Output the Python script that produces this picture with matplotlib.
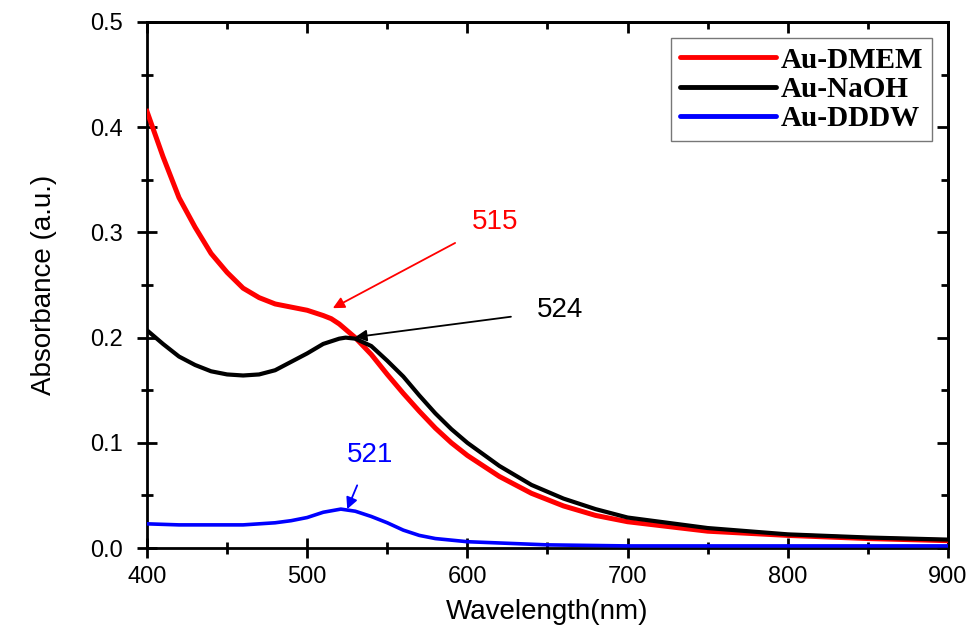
import matplotlib
matplotlib.use("Agg")
import matplotlib.pyplot as plt
import numpy as np

# Au-DMEM (red)
wl_dmem = [400, 410, 420, 430, 440, 450, 460, 470, 480, 490, 500, 510, 515, 520, 530,
           540, 550, 560, 570, 580, 590, 600, 620, 640, 660, 680, 700, 750, 800, 850, 900]
abs_dmem = [0.415, 0.372, 0.333, 0.305, 0.280, 0.262, 0.247, 0.238, 0.232, 0.229, 0.226,
            0.221, 0.218, 0.213, 0.200, 0.184, 0.165, 0.147, 0.130, 0.114, 0.100, 0.088,
            0.068, 0.052, 0.040, 0.031, 0.025, 0.016, 0.012, 0.009, 0.007]

# Au-NaOH (black)
wl_naoh = [400, 410, 420, 430, 440, 450, 460, 470, 480, 490, 500, 510, 520, 524, 530,
           540, 550, 560, 570, 580, 590, 600, 620, 640, 660, 680, 700, 750, 800, 850, 900]
abs_naoh = [0.207, 0.194, 0.182, 0.174, 0.168, 0.165, 0.164, 0.165, 0.169, 0.177, 0.185,
            0.194, 0.199, 0.200, 0.199, 0.192, 0.178, 0.163, 0.145, 0.128, 0.113, 0.100,
            0.078, 0.060, 0.047, 0.037, 0.029, 0.019, 0.013, 0.010, 0.008]

# Au-DDDW (blue)
wl_dddw = [400, 420, 440, 460, 480, 490, 500, 510, 521, 530, 540, 550, 560, 570, 580,
           600, 650, 700, 800, 900]
abs_dddw = [0.023, 0.022, 0.022, 0.022, 0.024, 0.026, 0.029, 0.034, 0.037, 0.035, 0.030,
            0.024, 0.017, 0.012, 0.009, 0.006, 0.003, 0.002, 0.002, 0.002]

labels = ["Au-DMEM", "Au-NaOH", "Au-DDDW"]

xmajor = [400, 500, 600, 700, 800, 900]
ymajor = [0.0, 0.1, 0.2, 0.3, 0.4, 0.5]

fig = plt.figure(figsize=(9.76, 6.34), dpi=100)
ax = fig.add_axes([0.1506, 0.1356, 0.8207, 0.8297])

ax.plot(wl_dmem, abs_dmem, color="#ff0000", lw=3.6, label=labels[0], zorder=3)
ax.plot(wl_naoh, abs_naoh, color="black", lw=3.0, label=labels[1], zorder=4)
ax.plot(wl_dddw, abs_dddw, color="#0000ff", lw=2.6, label=labels[2], zorder=3)

ax.set_xlim(400, 900)
ax.set_ylim(0, 0.5)
ax.set_xticks(xmajor)
ax.set_yticks(ymajor)
ax.set_xticks(np.arange(450, 900, 100), minor=True)
ax.set_yticks(np.arange(0.05, 0.5, 0.1), minor=True)
ax.yaxis.set_major_formatter(matplotlib.ticker.FormatStrFormatter("%.1f"))

for side in ax.spines.values():
    side.set_linewidth(2.0)

ax.tick_params(which="both", direction="inout", top=False, right=False, width=2.0)
ax.tick_params(axis="x", which="major", pad=6)
ax.tick_params(axis="y", which="major", pad=10)
ax.tick_params(which="major", length=14)
ax.tick_params(which="minor", length=9)
# mirrored inward ticks on top/right
ax2 = ax.secondary_xaxis("top")
ax2.set_xticks(xmajor)
ax2.set_xticks(np.arange(450, 900, 100), minor=True)
ax2.tick_params(which="both", direction="in", labeltop=False, width=2.0)
ax2.tick_params(which="major", length=8)
ax2.tick_params(which="minor", length=5)
ay2 = ax.secondary_yaxis("right")
ay2.set_yticks(ymajor)
ay2.set_yticks(np.arange(0.05, 0.5, 0.1), minor=True)
ay2.tick_params(which="both", direction="in", labelright=False, width=2.0)
ay2.tick_params(which="major", length=8)
ay2.tick_params(which="minor", length=5)
for sp in list(ax2.spines.values()) + list(ay2.spines.values()):
    sp.set_linewidth(2.0)

for lab in ax.get_xticklabels() + ax.get_yticklabels():
    lab.set_fontfamily("Liberation Sans")
    lab.set_fontsize(17)

ax.set_xlabel("Wavelength(nm)", family="Liberation Sans", fontsize=20, labelpad=8)
ax.set_ylabel("Absorbance (a.u.)", family="Liberation Sans", fontsize=20, labelpad=24)

ax.annotate("515", xy=(516, 0.228), xytext=(617, 0.31), color="#ff0000",
            fontsize=20, family="Liberation Sans", ha="center", va="center",
            arrowprops=dict(arrowstyle="-|>", color="#ff0000", lw=1.3,
                            shrinkA=11, shrinkB=0, mutation_scale=17))
ax.annotate("524", xy=(530, 0.2005), xytext=(658, 0.226), color="black",
            fontsize=20, family="Liberation Sans", ha="center", va="center",
            arrowprops=dict(arrowstyle="-|>", color="black", lw=1.3,
                            shrinkA=17, shrinkB=0, mutation_scale=17))
ax.annotate("521", xy=(525, 0.037), xytext=(539, 0.088), color="#0000ff",
            fontsize=20, family="Liberation Sans", ha="center", va="center",
            arrowprops=dict(arrowstyle="-|>", color="#0000ff", lw=1.3,
                            shrinkA=11, shrinkB=0, mutation_scale=17))

leg = ax.legend(loc="upper right", bbox_to_anchor=(0.980, 0.970),
                prop={"family": "Liberation Serif", "weight": "bold", "size": 21},
                frameon=True, fancybox=False, edgecolor="#555555",
                handlelength=3.3, handletextpad=0.15, labelspacing=0.08,
                borderpad=0.3, borderaxespad=0)
leg.get_frame().set_linewidth(1.0)
for line in leg.get_lines():
    line.set_linewidth(3.5)
    line.set_solid_capstyle("round")

fig.savefig("out.png", dpi=100)
